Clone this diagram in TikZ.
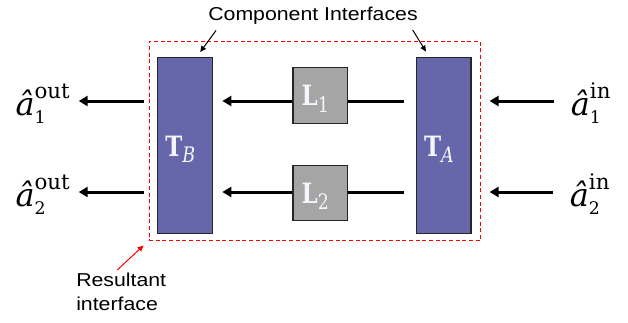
\documentclass[tikz,border=0pt]{standalone}
\usepackage{fontspec}
\setmainfont{Liberation Sans}[FakeStretch=1.14]
\newfontfamily\opfont{DejaVu Serif}
\newfontfamily\boxfont{DejaVu Serif}[FakeStretch=0.82]
\usetikzlibrary{arrows.meta}

\definecolor{tpurple}{RGB}{102,102,170}
\definecolor{lgray}{RGB}{165,165,165}
\definecolor{boxtxt}{RGB}{245,245,252}

% mode operator \hat a with super- and subscript
\newcommand\modeop[2]{$\mbox{\opfont\itshape\^a}^{\mbox{\opfont\fontsize{16}{16}\selectfont #1}}_{\mbox{\opfont\fontsize{13}{13}\selectfont #2}}$}
\newcommand\boxname[3]{{\bfseries #1}\raisebox{-4.7pt}{\fontsize{16}{16}\selectfont#2{#3}}}

\begin{document}
\begin{tikzpicture}[x=0.75pt, y=-0.75pt, font=\fontsize{14}{18}\selectfont]
\tikzset{tbox/.style={draw=black!85, line width=1pt, fill=tpurple, minimum width=41.2pt,
    minimum height=132pt, inner sep=0pt},
  lbox/.style={draw=black!85, line width=1pt, fill=lgray, minimum width=41pt,
    minimum height=41.7pt, inner sep=0pt},
  boxlab/.style={text=boxtxt, font=\boxfont\fontsize{21}{21}\selectfont, inner sep=0pt, xshift=-3.7pt},
  opnode/.style={inner sep=0pt, font=\opfont\fontsize{24}{26}\selectfont},
  flow/.style={line width=2.25pt, -{Triangle[length=6.75pt, width=7.5pt]}},
  flat/.style={line width=2.25pt},
  pointer/.style={line width=0.75pt, -{Triangle[length=4.5pt, width=4pt]}}}

\useasboundingbox (0,0) rectangle (628,322);

% resultant interface
\node[draw=red, line width=0.75pt, dash pattern=on 3pt off 2pt, minimum width=248.6pt,
    minimum height=149.5pt, inner sep=0pt] (frame) at (314.8,141.3) {};

% component interfaces
\node[tbox, label={[boxlab, yshift=-3pt]center:\boxname{T}{\itshape}{B}}] (tB) at (185.2,145.3) {};
\node[tbox, minimum width=40.7pt, label={[boxlab, yshift=-3pt]center:\boxname{T}{\itshape}{A}}] (tA) at (443.8,145.3) {};

% links
\node[lbox, label={[boxlab, yshift=-2.5pt]center:\boxname{L}{}{1}}] (l1) at (320.3,95.5) {};
\node[lbox, label={[boxlab, yshift=-2.5pt]center:\boxname{L}{}{2}}] (l2) at (320.3,193) {};

\coordinate (r1) at (0,101);
\coordinate (r2) at (0,192);

\node[opnode] (out1) at (43,103.5) {\modeop{out}{1}};
\node[opnode] (out2) at (43,194.5) {\modeop{out}{2}};
\node[opnode] (in1) at (591,103.5) {\modeop{in}{1}};
\node[opnode] (in2) at (590,194.5) {\modeop{in}{2}};

\draw[flow, shorten <=12.75pt, shorten >=13.5pt] (in1.west |- r1) -- (tA.east |- r1);
\draw[flow, shorten <=12.75pt, shorten >=13.5pt] (in2.west |- r2) -- (tA.east |- r2);
\draw[flat, shorten <=8.8pt] (tA.west |- r1) -- (l1.east |- r1);
\draw[flat, shorten <=8.8pt] (tA.west |- r2) -- (l2.east |- r2);
\draw[flow, shorten >=6.75pt] (l1.west |- r1) -- (tB.east |- r1);
\draw[flow, shorten >=6.75pt] (l2.west |- r2) -- (tB.east |- r2);
\draw[flow, shorten <=9.5pt, shorten >=6pt] (tB.west |- r1) -- (out1.east |- r1);
\draw[flow, shorten <=9.5pt, shorten >=6pt] (tB.west |- r2) -- (out2.east |- r2);

% callouts
\node[inner sep=0pt] (ci) at (313,16) {Component Interfaces};
\draw[pointer] ([shift={(8,5.5)}]ci.south west) -- ([shift={(15,-4.6)}]tB.north);
\draw[pointer] ([shift={(-5.3,5)}]ci.south east) -- ([shift={(-17.8,-5)}]tA.north);

\node[inner sep=0pt, anchor=north west, align=left] (ri) at (76,273) {Resultant\\interface};
\draw[pointer, red] ([shift={(-4,-3)}]ri.north) -- ([shift={(-5,4)}]frame.south west);

\end{tikzpicture}
\end{document}
